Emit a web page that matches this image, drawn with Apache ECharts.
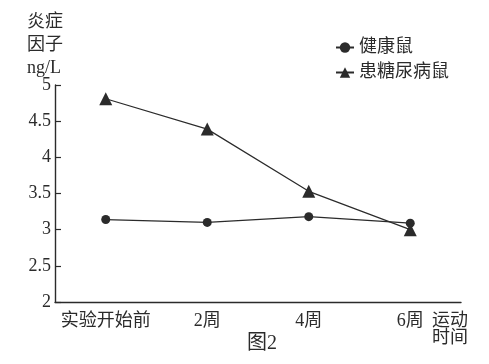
<!DOCTYPE html>
<html><head><meta charset="utf-8">
<script src="https://cdn.jsdelivr.net/npm/echarts@6/dist/echarts.min.js"></script>
<style>html,body{margin:0;padding:0;background:#fff}#c{width:489px;height:364px}</style>
</head><body><div id="c"></div>
<script>
const categories = ['实验开始前', '2周', '4周', '6周'];
const healthy = [3.14, 3.10, 3.18, 3.09];
const diabetic = [4.81, 4.39, 3.53, 3.00];
const yTicks = { min: 2, max: 5, interval: 0.5 };
const seriesNames = ['健康鼠', '患糖尿病鼠'];

const FONT = '"Liberation Serif", "Noto Sans CJK SC", serif';
const INK = '#2b2b2b';
const chart = echarts.init(document.getElementById('c'), null, { renderer: 'canvas' });
chart.setOption({
  backgroundColor: '#fff',
  animation: false,
  textStyle: { fontFamily: FONT, color: INK },
  grid: { left: 55, right: 28, top: 85, bottom: 62 },
  legend: {
    orient: 'vertical', left: 330, top: 33, itemGap: 6, itemWidth: 18, itemHeight: 13,
    textStyle: { fontFamily: FONT, fontSize: 18, lineHeight: 19, color: INK },
    data: seriesNames
  },
  xAxis: {
    type: 'category', data: categories, boundaryGap: true,
    axisLine: { lineStyle: { color: INK, width: 1.4 } },
    axisTick: { inside: true, length: 6, lineStyle: { color: INK, width: 1.2 } },
    axisLabel: { interval: 0, fontFamily: FONT, fontSize: 18, color: INK, margin: 10 }
  },
  yAxis: {
    type: 'value', min: yTicks.min, max: yTicks.max, interval: yTicks.interval,
    splitLine: { show: false },
    axisLine: { show: true, lineStyle: { color: INK, width: 1.4 } },
    axisTick: { show: true, inside: true, length: 6, lineStyle: { color: INK, width: 1.2 } },
    axisLabel: { fontFamily: FONT, fontSize: 18, color: INK, margin: 4 }
  },
  graphic: [
    { type: 'text', left: 27, top: 11, style: { text: '炎症\n因子\nng/L', fontFamily: FONT, fontSize: 18, lineHeight: 23, fill: INK, textAlign: 'left' } },
    { type: 'text', left: 432, top: 312, style: { text: '运动\n时间', fontFamily: FONT, fontSize: 18, lineHeight: 17, fill: INK } },
    { type: 'text', left: 247, top: 334, style: { text: '图2', fontFamily: FONT, fontSize: 20, fill: INK } }
  ],
  series: [
    { name: seriesNames[0], type: 'line', data: healthy, symbol: 'circle', symbolSize: 9,
      lineStyle: { color: INK, width: 1.2 }, itemStyle: { color: INK } },
    { name: seriesNames[1], type: 'line', data: diabetic, symbol: 'triangle', symbolSize: 13,
      lineStyle: { color: INK, width: 1.2 }, itemStyle: { color: INK } }
  ]
});
</script></body></html>
